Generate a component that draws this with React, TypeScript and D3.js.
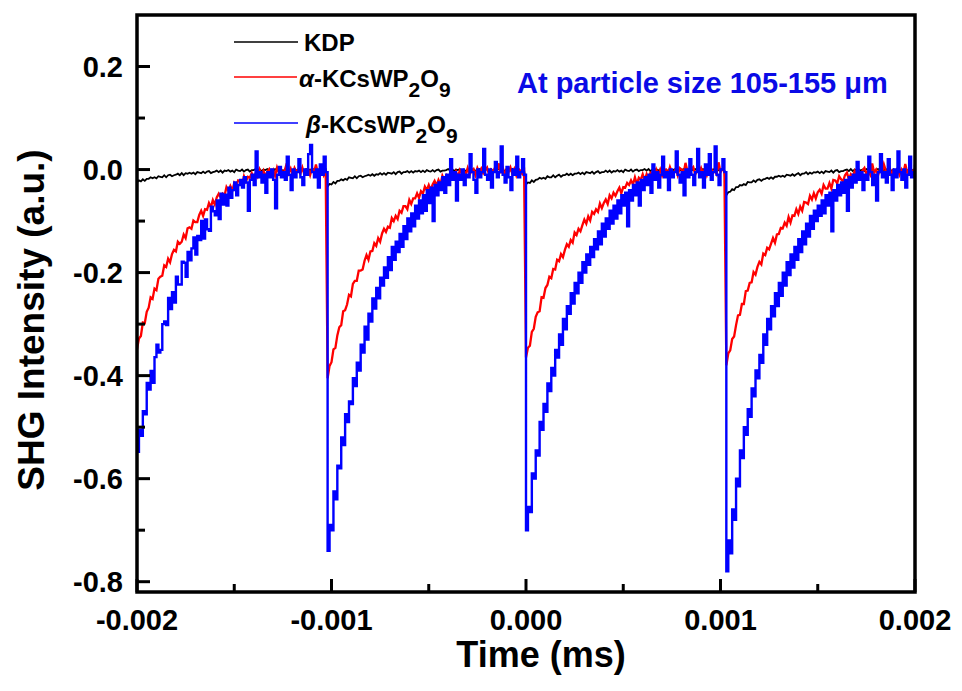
import React from 'react';
import * as d3 from 'd3';

const W = 962;
const H = 691;
const PL = 137, PR = 915, PT = 15, PB = 592;

const xDomain: [number, number] = [-0.002, 0.002];
const yDomain: [number, number] = [-0.82, 0.30];
const xMajor = [-0.002, -0.001, 0, 0.001, 0.002];
const xMinor = [-0.0015, -0.0005, 0.0005, 0.0015];
const xTickLabels = ['-0.002', '-0.001', '0.000', '0.001', '0.002'];
const yMajor = [0.2, 0, -0.2, -0.4, -0.6, -0.8];
const yMinor = [0.1, -0.1, -0.3, -0.5, -0.7];
const yTickLabels = ['0.2', '0.0', '-0.2', '-0.4', '-0.6', '-0.8'];

// sampling grid of the recorded traces (ms)
const tStart = -0.002;
const tStep = 0.00001;

const kdp = [
-.025,-.021,-.023,-.019,-.022,-.018,-.018,-.015,-.017,-.015,
-.017,-.013,-.014,-.015,-.011,-.015,-.011,-.010,-.013,-.011,
-.010,-.008,-.011,-.007,-.011,-.007,-.008,-.006,-.008,-.006,
-.009,-.005,-.006,-.007,-.004,-.007,-.004,-.003,-.007,-.005,
-.004,-.002,-.005,-.002,-.006,-.002,-.003,-.001,-.004,-.002,
-.005,.000,-.002,-.003,.000,-.004,-.001,.000,-.004,-.001,
-.001,.001,-.002,.001,-.003,.000,-.001,.001,-.002,.000,
-.003,.001,-.001,-.002,.001,-.003,.000,.001,-.003,-.001,
-.001,.001,-.002,.001,-.003,.000,-.001,.001,-.002,.000,
-.003,.001,-.001,-.002,.001,-.003,.000,.001,
-.033,-.028,-.029,-.024,-.027,-.022,-.022,-.019,-.021,-.018,
-.020,-.015,-.016,-.017,-.013,-.017,-.013,-.012,-.015,-.013,
-.012,-.010,-.012,-.009,-.012,-.009,-.010,-.007,-.010,-.007,
-.010,-.006,-.007,-.008,-.005,-.009,-.005,-.004,-.008,-.005,
-.005,-.003,-.006,-.003,-.006,-.003,-.004,-.002,-.005,-.002,
-.005,-.001,-.003,-.004,-.001,-.004,-.001,.000,-.004,-.002,
-.002,
-.001,.001,-.002,.001,-.003,.000,-.001,.001,-.002,.000,
-.003,.001,-.001,-.002,.001,-.003,.000,.001,-.003,-.001,
-.001,.001,-.002,.001,-.003,.000,-.001,.001,-.002,.000,
-.003,.001,-.001,-.002,.001,-.003,.000,.001,-.003,-.001,
.000,
-.029,-.025,-.026,-.021,-.024,-.020,-.019,-.016,-.018,-.016,
-.018,-.013,-.015,-.015,-.011,-.015,-.012,-.010,-.014,-.011,
-.011,-.008,-.011,-.008,-.011,-.008,-.008,-.006,-.009,-.006,
-.009,-.005,-.006,-.007,-.004,-.008,-.005,-.003,-.007,-.005,
-.005,-.002,-.005,-.002,-.006,-.003,-.004,-.001,-.004,-.002,
-.005,.000,-.002,-.003,.000,-.004,-.001,.000,-.003,-.001,
-.001,.001,-.002,.001,-.003,.000,-.001,.001,-.002,.000,
-.003,.001,-.001,-.002,.001,-.003,.000,.001,-.003,-.001,
-.001,.001,-.002,.001,-.003,.000,-.001,.001,-.002,.000,
-.003,.001,-.001,-.002,.001,-.003,.000,.001,-.003,-.001,
.000,.001,-.002,
-.050,-.044,-.043,-.038,-.040,-.034,-.034,-.030,-.031,-.028,
-.030,-.024,-.025,-.025,-.021,-.024,-.020,-.019,-.022,-.019,
-.018,-.016,-.018,-.015,-.018,-.014,-.014,-.012,-.014,-.012,
-.014,-.010,-.011,-.012,-.009,-.012,-.009,-.007,-.011,-.008,
-.008,-.005,-.009,-.006,-.008,-.005,-.006,-.004,-.007,-.004,
-.007,-.003,-.004,-.005,-.002,-.006,-.002,-.001,-.005,-.003,
-.003,
-.001,.000,-.003,.001,-.003,.000,-.001,.001,-.002,.000,
-.003,.001,-.001,-.002,.001,-.003,.000,.001,-.003,-.001,
-.001,.001,-.002,.001,-.003,.000,-.001,.001,-.002,.000,
-.003,.001,-.001,-.002,.001,-.003,.000,
];

const alphaKCsWP2O9 = [
-.349,-.328,-.323,-.297,-.298,-.276,-.268,-.248,-.251,-.231,
-.234,-.212,-.208,-.206,-.186,-.189,-.173,-.180,-.164,-.156,
-.159,-.140,-.144,-.140,-.126,-.133,-.114,-.112,-.115,-.099,
-.102,-.102,-.088,-.080,-.090,-.077,-.078,-.065,-.073,-.059,
-.068,-.054,-.047,-.054,-.047,-.051,-.034,-.041,-.032,-.041,
-.026,-.032,-.021,-.022,-.030,-.013,-.023,-.014,-.016,-.007,
-.018,-.007,-.014,.000,-.010,-.002,-.013,-.004,.001,-.009,
-.001,-.012,.004,-.006,.001,-.009,-.001,.012,-.007,.002,
-.010,.003,-.005,.000,-.008,.004,-.009,-.002,.001,-.011,
.003,-.006,.010,-.007,-.001,.004,-.010,.000,
-.405,-.381,-.374,-.349,-.346,-.322,-.306,-.302,-.275,-.273,
-.262,-.243,-.246,-.222,-.216,-.216,-.196,-.196,-.194,-.177,
-.166,-.175,-.159,-.158,-.143,-.148,-.133,-.140,-.124,-.115,
-.121,-.111,-.113,-.094,-.100,-.090,-.096,-.080,-.084,-.071,
-.071,-.077,-.059,-.067,-.056,-.056,-.046,-.055,-.042,-.047,
-.033,-.040,-.030,-.040,-.029,-.022,-.031,-.020,-.029,-.012,
-.021,-.012,-.021,-.011,-.004,-.015,-.004,-.015,-.001,-.008,
-.003,-.010,.003,-.010,-.002,.001,-.011,.003,-.006,.002,
-.007,-.001,.004,-.010,.000,-.004,.003,-.003,.012,-.007,
.005,-.010,.000,-.005,.004,-.009,.001,-.011,.002,-.002,
-.008,.004,
-.365,-.346,-.342,-.315,-.309,-.286,-.277,-.275,-.248,-.249,
-.230,-.224,-.208,-.211,-.193,-.194,-.175,-.178,-.164,-.170,
-.156,-.145,-.150,-.137,-.142,-.122,-.127,-.115,-.120,-.108,
-.097,-.105,-.091,-.099,-.082,-.086,-.077,-.082,-.066,-.075,
-.065,-.058,-.067,-.050,-.056,-.045,-.051,-.042,-.035,-.046,
-.034,-.035,-.026,-.030,-.021,-.029,-.015,-.028,-.016,-.020,
-.009,-.021,-.009,-.020,-.006,-.008,-.013,.000,-.010,.000,
-.012,-.002,.000,-.009,.005,-.005,-.007,.002,-.011,.003,
.000,-.008,.013,-.004,-.009,.001,.005,-.010,-.001,-.006,
.003,-.008,.002,-.011,.000,.004,-.007,-.002,-.009,.014,
-.005,.001,-.003,
-.380,-.357,-.351,-.329,-.324,-.302,-.283,-.282,-.261,-.261,
-.236,-.235,-.220,-.219,-.199,-.204,-.189,-.179,-.184,-.163,
-.166,-.152,-.155,-.144,-.133,-.142,-.126,-.125,-.113,-.114,
-.103,-.109,-.092,-.103,-.089,-.090,-.077,-.086,-.072,-.080,
-.063,-.064,-.067,-.051,-.058,-.046,-.056,-.044,-.039,-.047,
-.030,-.037,-.037,-.026,-.037,-.020,-.021,-.027,-.013,-.019,
-.023,-.011,-.006,-.019,-.009,-.013,-.003,-.013,-.002,-.014,
-.002,.003,-.008,-.003,-.010,.012,-.006,.000,-.011,.001,
-.007,.010,-.002,-.012,.003,-.009,-.001,-.005,.002,-.010,
.000,-.008,.011,-.006,.001,-.011,-.003,.002,
];

const betaKCsWP2O9 = [
-.548,-.505,-.517,-.469,-.475,-.414,-.427,-.391,-.414,-.364,
-.340,-.355,-.350,-.300,-.295,-.302,-.249,-.271,-.238,-.258,
-.208,-.223,-.223,-.179,-.181,-.208,-.160,-.176,-.153,-.132,
-.165,-.129,-.137,-.100,-.134,-.097,-.116,-.119,-.072,-.081,
-.089,-.060,-.096,-.047,-.068,-.049,-.070,
-.035,-.055,-.040,-.025,-.050,-.030,-.020,-.035,-.015,-.025,
-.080,-.020,-.010,-.030,.035,-.015,-.005,-.025,-.010,-.045,
-.005,-.015,.000,-.020,-.075,-.010,.005,-.015,-.005,-.020,
.025,-.010,-.040,.000,-.015,-.005,.020,-.015,-.030,.000,
-.010,.030,.048,-.005,-.015,.000,-.035,.010,-.010,.025,
-.005,
-.740,-.690,-.700,-.625,-.640,-.575,-.580,-.520,-.535,-.475,
-.490,-.450,-.455,-.405,-.420,-.375,-.390,-.340,-.355,-.305,
-.330,-.280,-.295,-.250,-.270,-.230,-.250,-.210,-.225,-.190,
-.210,-.170,-.195,-.150,-.175,-.140,-.160,-.125,-.150,-.110,
-.135,-.095,-.120,-.085,-.110,-.070,-.095,-.060,-.085,-.050,
-.080,-.040,-.065,-.035,-.100,-.030,-.050,-.025,-.040,-.015,
-.045,-.010,-.030,.020,-.020,-.005,-.060,-.010,-.020,.000,
-.030,-.010,-.015,.030,-.005,-.020,-.045,.000,-.015,-.005,
.040,-.010,-.020,.000,-.035,-.005,.015,-.015,-.005,.045,
-.010,-.025,.005,-.015,-.040,.000,-.010,.025,-.015,-.005,
.020,-.010,
-.700,-.655,-.665,-.590,-.600,-.545,-.555,-.490,-.505,-.455,
-.470,-.415,-.430,-.385,-.400,-.350,-.365,-.320,-.340,-.290,
-.310,-.265,-.280,-.240,-.260,-.220,-.240,-.200,-.220,-.180,
-.200,-.165,-.185,-.150,-.170,-.135,-.155,-.120,-.145,-.105,
-.130,-.095,-.115,-.080,-.105,-.070,-.095,-.060,-.085,-.050,
-.070,-.045,-.110,-.040,-.060,-.030,-.050,-.025,-.070,-.020,
-.040,-.015,-.030,-.010,-.045,.010,-.020,-.005,-.035,-.010,
.025,-.015,-.005,-.040,.000,-.015,-.005,.035,-.010,-.025,
-.005,-.050,.000,-.015,.020,-.010,-.030,-.005,.040,-.015,
-.005,-.035,.010,-.010,.030,-.020,-.005,.045,-.010,-.030,
.000,.020,-.005,
-.780,-.720,-.745,-.660,-.680,-.600,-.615,-.545,-.560,-.500,
-.515,-.465,-.480,-.425,-.440,-.390,-.405,-.360,-.375,-.320,
-.340,-.290,-.310,-.265,-.285,-.240,-.265,-.220,-.245,-.200,
-.225,-.180,-.205,-.165,-.190,-.150,-.175,-.135,-.160,-.120,
-.145,-.105,-.130,-.090,-.115,-.080,-.100,-.070,-.090,-.060,
-.085,-.050,-.070,-.045,-.120,-.040,-.060,-.030,-.050,-.025,
-.045,-.020,-.080,-.015,-.035,-.010,-.025,.015,-.020,-.005,
-.040,-.010,-.020,.025,-.005,-.030,-.010,-.060,-.005,.030,
-.015,-.005,-.025,.020,-.010,-.040,.000,-.015,.035,-.005,
-.020,.000,-.035,-.010,.025,-.015,-.005,.010,
];

const FONT = '"Liberation Sans", Arial, Helvetica, sans-serif';

export default function App() {
  const x = d3.scaleLinear().domain(xDomain).range([PL, PR]);
  const y = d3.scaleLinear().domain(yDomain).range([PB, PT]);

  const lineLin = d3.line<number>()
    .x((_, i) => x(tStart + i * tStep))
    .y((d) => y(d));
  const lineStep = d3.line<number>()
    .x((_, i) => x(tStart + i * tStep))
    .y((d) => y(d))
    .curve(d3.curveStepAfter);

  return (
    <svg width={W} height={H} viewBox={`0 0 ${W} ${H}`}
      style={{ position: 'absolute', left: 0, top: 0, background: '#fff' }}
      fontFamily={FONT} fontWeight="bold">
      <defs>
        <clipPath id="plotClip">
          <rect x={PL} y={PT} width={PR - PL} height={PB - PT} />
        </clipPath>
      </defs>
      <rect x={0} y={0} width={W} height={H} fill="#fff" />

      <g clipPath="url(#plotClip)" fill="none" strokeLinejoin="miter">
        <path d={lineLin(kdp) || ''} stroke="#000" strokeWidth={1.8} />
        <path d={lineLin(alphaKCsWP2O9) || ''} stroke="#ff0000" strokeWidth={2.3} />
        <path d={lineStep(betaKCsWP2O9) || ''} stroke="#0000ff" strokeWidth={2.4} />
      </g>

      {/* ticks */}
      <g stroke="#000" strokeWidth={3}>
        {yMajor.map((v) => (
          <line key={'ym' + v} x1={PL} x2={PL + 13} y1={y(v)} y2={y(v)} />
        ))}
        {yMinor.map((v) => (
          <line key={'yn' + v} x1={PL} x2={PL + 8} y1={y(v)} y2={y(v)} />
        ))}
        {xMajor.map((v) => (
          <line key={'xm' + v} x1={x(v)} x2={x(v)} y1={PB} y2={PB - 13} />
        ))}
        {xMinor.map((v) => (
          <line key={'xn' + v} x1={x(v)} x2={x(v)} y1={PB} y2={PB - 8} />
        ))}
      </g>

      <rect x={PL} y={PT} width={PR - PL} height={PB - PT} fill="none" stroke="#000" strokeWidth={3.5} />

      {/* tick labels */}
      <g fontSize={29} fill="#000">
        {yMajor.map((v, i) => (
          <text key={'yl' + v} x={123} y={y(v) + 10.5} textAnchor="end">{yTickLabels[i]}</text>
        ))}
        {xMajor.map((v, i) => (
          <text key={'xl' + v} x={x(v)} y={630} textAnchor="middle">{xTickLabels[i]}</text>
        ))}
      </g>

      {/* axis titles */}
      <text x={541} y={667} fontSize={36} textAnchor="middle" fill="#000">Time (ms)</text>
      <text transform={`translate(44, 320) rotate(-90)`} fontSize={37} textAnchor="middle" fill="#000">SHG Intensity (a.u.)</text>

      {/* legend */}
      <g fontSize={24} fill="#000">
        <line x1={234} x2={298} y1={42} y2={42} stroke="#000" strokeWidth={1.5} />
        <text x={304} y={50.5}>KDP</text>
        <line x1={234} x2={297} y1={77} y2={77} stroke="#ff0000" strokeWidth={1.5} />
        <text x={299} y={87}>
          <tspan fontStyle="italic">α</tspan>
          <tspan>-KCsWP</tspan>
          <tspan fontSize={21} dy={10}>2</tspan>
          <tspan dy={-10}>O</tspan>
          <tspan fontSize={21} dy={10}>9</tspan>
        </text>
        <line x1={234} x2={298} y1={123} y2={123} stroke="#0000ff" strokeWidth={1.5} />
        <text x={306} y={133}>
          <tspan fontStyle="italic">β</tspan>
          <tspan>-KCsWP</tspan>
          <tspan fontSize={21} dy={10}>2</tspan>
          <tspan dy={-10}>O</tspan>
          <tspan fontSize={21} dy={10}>9</tspan>
        </text>
      </g>

      <text x={517} y={93} fontSize={29} fill="#0a0ae6">At particle size 105-155 μm</text>
    </svg>
  );
}
